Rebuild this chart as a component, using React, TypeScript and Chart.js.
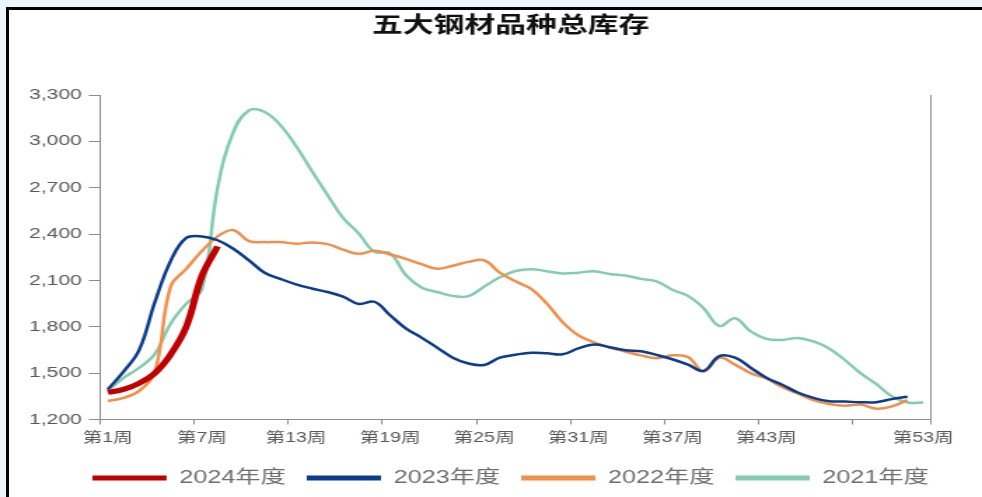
import React, { useEffect, useRef } from 'react';
import { Chart, registerables } from 'chart.js';

Chart.register(...registerables);

// ---- data ----
const weeks: string[] = Array.from({ length: 53 }, (_, i) => `第${i + 1}周`);
const shownWeekIdx = [0, 6, 12, 18, 24, 30, 36, 42, 52];

const titleText = '五大钢材品种总库存';
const seriesNames = ['2024年度', '2023年度', '2022年度', '2021年度'];
const seriesColors = ['#C00000', '#0B3C8C', '#F0904C', '#84CCAF'];
const seriesWidths = [5, 2.5, 2.5, 2.5];

const y2024 = [1375, 1395, 1435, 1500, 1620, 1800, 2130, 2320];
const y2023 = [
  1395, 1510, 1650, 1960, 2225, 2375, 2385, 2360, 2305, 2230,
  2150, 2110, 2075, 2048, 2025, 1995, 1948, 1962, 1875, 1790,
  1730, 1665, 1600, 1562, 1553, 1600, 1619, 1632, 1628, 1622,
  1660, 1685, 1668, 1648, 1642, 1618, 1590, 1555, 1515, 1610,
  1600, 1535, 1470, 1425, 1375, 1340, 1318, 1316, 1312, 1312,
  1332, 1347,
];
const y2022 = [
  1320, 1340, 1385, 1510, 2060, 2175, 2290, 2385, 2425, 2355,
  2348, 2348, 2338, 2345, 2335, 2300, 2272, 2292, 2268, 2240,
  2205, 2175, 2195, 2220, 2230, 2150, 2094, 2045, 1950, 1830,
  1745, 1700, 1665, 1640, 1615, 1597, 1615, 1605, 1510, 1600,
  1555, 1500, 1465, 1410, 1368, 1325, 1300, 1289, 1297, 1270,
  1285, 1325,
];
const y2021 = [
  1385, 1470, 1535, 1625, 1820, 1950, 2045, 2700, 3060, 3200,
  3190, 3105, 2970, 2810, 2655, 2505, 2404, 2285, 2275, 2135,
  2055, 2025, 2000, 1998, 2060, 2120, 2161, 2172, 2160, 2145,
  2150, 2160, 2142, 2132, 2110, 2094, 2040, 2000, 1920, 1805,
  1855, 1770, 1722, 1715, 1728, 1705, 1660, 1585, 1500, 1430,
  1350, 1310, 1310,
];
const seriesValues = [y2024, y2023, y2022, y2021];

const yMin = 1200;
const yMax = 3300;
const yStep = 300;

// ---- geometry (canvas is drawn narrow and stretched horizontally) ----
const SCREEN_W = 982;
const H = 497;
const CHART_W = 701;
const SX = SCREEN_W / CHART_W;
const AXIS = '#8c8c8c';
const TICK_TEXT = '#595959';
const LEGEND_TEXT = '#6e6e6e';
const PAD_LEFT = 12;
const LEGEND_SHIFT = 8;
const TITLE_SHIFT = 8;

const boxShift = {
  id: 'boxShift',
  afterLayout(chart: any) {
    const lg = chart.legend;
    if (lg) {
      lg.left += LEGEND_SHIFT;
      lg.right += LEGEND_SHIFT;
    }
    const tt = chart.titleBlock;
    if (tt) {
      tt.left += TITLE_SHIFT;
      tt.right += TITLE_SHIFT;
    }
  },
};

export default function App() {
  const ref = useRef<HTMLCanvasElement | null>(null);

  useEffect(() => {
    if (!ref.current) return;
    const chart = new Chart(ref.current, {
      type: 'line',
      data: {
        labels: weeks,
        datasets: seriesNames.map((name, i) => ({
          label: name,
          data: seriesValues[i],
          borderColor: seriesColors[i],
          backgroundColor: seriesColors[i],
          borderWidth: seriesWidths[i],
          pointRadius: 0,
          pointHoverRadius: 0,
          tension: 0.4,
          fill: false,
          yAxisID: 'y',
        })),
      },
      plugins: [boxShift],
      options: {
        responsive: false,
        animation: false,
        devicePixelRatio: 1,
        events: [],
        font: { family: '"Liberation Sans", "Noto Sans CJK SC", sans-serif' },
        layout: { padding: { left: PAD_LEFT, right: 0, top: 5, bottom: 0 } },
        plugins: {
          tooltip: { enabled: false },
          title: {
            display: true,
            text: titleText,
            color: '#111111',
            font: { family: '"Noto Sans CJK SC", sans-serif', size: 22, weight: 'bold', lineHeight: 1.2 },
            padding: { top: 5, bottom: 58.6 },
          },
          legend: {
            display: true,
            position: 'bottom',
            maxHeight: 51,
            labels: {
              boxWidth: 53,
              boxHeight: 5,
              padding: 15,
              color: LEGEND_TEXT,
              useBorderRadius: true,
              borderRadius: 2.5,
              font: { family: '"Liberation Sans", "Noto Sans CJK SC", sans-serif', size: 18 },
              generateLabels: (c: any) =>
                c.data.datasets.map((ds: any, i: number) => ({
                  text: ds.label,
                  fillStyle: seriesColors[i],
                  strokeStyle: seriesColors[i],
                  lineWidth: 0,
                  hidden: false,
                  datasetIndex: i,
                  fontColor: LEGEND_TEXT,
                })),
            },
          },
        },
        scales: {
          x: {
            type: 'category',
            offset: true,
            grid: {
              display: true,
              offset: true,
              drawOnChartArea: false,
              drawTicks: true,
              tickLength: 5,
              tickWidth: 1,
              tickColor: (ctx: any) =>
                ctx.index === undefined || ctx.index % 6 === 0 ? AXIS : 'rgba(0,0,0,0)',
            },
            border: { display: true, color: AXIS, width: 1 },
            ticks: {
              autoSkip: false,
              maxRotation: 0,
              minRotation: 0,
              padding: 5,
              color: TICK_TEXT,
              font: { size: 14 },
              callback: (_v: any, i: number) => (shownWeekIdx.includes(i) ? weeks[i] : ''),
            },
            afterFit: (s: any) => {
              s.height = 34.5;
            },
          },
          y: {
            type: 'linear',
            position: 'left',
            min: yMin,
            max: yMax,
            grid: {
              display: true,
              drawOnChartArea: false,
              drawTicks: true,
              tickLength: 8,
              tickColor: AXIS,
            },
            border: { display: true, color: AXIS, width: 1 },
            ticks: {
              stepSize: yStep,
              padding: 5,
              color: TICK_TEXT,
              font: { size: 15 },
              callback: (v: any) => Number(v).toLocaleString('en-US'),
            },
            afterFit: (s: any) => {
              s.width = 100 / SX - PAD_LEFT;
            },
          },
          y1: {
            type: 'linear',
            position: 'right',
            min: yMin,
            max: yMax,
            grid: { display: false, drawOnChartArea: false, drawTicks: false },
            border: { display: true, color: AXIS, width: 1 },
            ticks: { display: false },
            afterFit: (s: any) => {
              s.width = CHART_W - 931 / SX;
            },
          },
        },
      },
    });
    return () => chart.destroy();
  }, []);

  return (
    <div
      style={{
        position: 'fixed',
        left: 0,
        top: 0,
        width: SCREEN_W,
        height: H,
        background: '#eef4fb',
        overflow: 'hidden',
      }}
    >
      <div
        style={{
          position: 'absolute',
          left: 6,
          top: 7,
          right: 0,
          bottom: 0,
          background: '#ffffff',
          borderLeft: '3px solid #000',
          borderTop: '3px solid #000',
        }}
      />
      <canvas
        ref={ref}
        width={CHART_W}
        height={H}
        style={{ position: 'absolute', left: 0, top: 0, width: SCREEN_W + 'px', height: H + 'px' }}
      />
    </div>
  );
}
